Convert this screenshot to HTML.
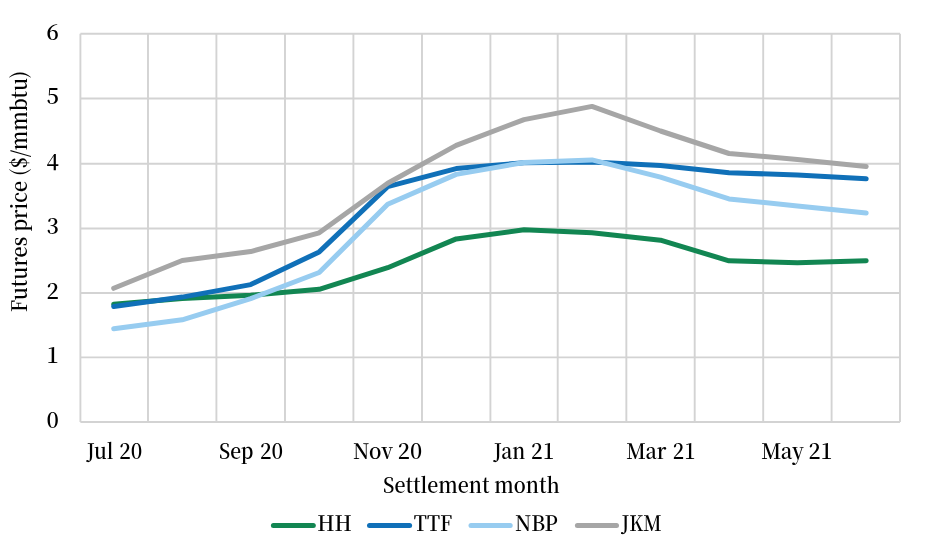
<!DOCTYPE html>
<html lang="en"><head><meta charset="utf-8"><title>Gas futures prices</title>
<style>html,body{margin:0;padding:0;background:#fff}svg{display:block}text{font-family:'Noto Serif CJK SC','Liberation Serif',serif;font-size:21.4px;font-weight:600;fill:#000}</style></head><body>
<svg width="925" height="552" viewBox="0 0 925 552">
<rect width="925" height="552" fill="#fff"/>
<path d="M80.40 33.80V421.94M148.00 33.80V421.94M216.40 33.80V421.94M285.00 33.80V421.94M353.40 33.80V421.94M422.00 33.80V421.94M490.40 33.80V421.94M557.70 33.80V421.94M626.35 33.80V421.94M694.70 33.80V421.94M763.20 33.80V421.94M831.60 33.80V421.94M900.00 33.80V421.94M80.40 33.80H900.00M80.40 98.43H900.00M80.40 163.80H900.00M80.40 228.43H900.00M80.40 292.94H900.00M80.40 357.35H900.00M80.40 421.94H900.00" fill="none" stroke="#D3D3D3" stroke-width="1.9"/>
<polyline points="113.7,304.2 182.2,298.4 250.7,295.2 319.2,289.3 387.7,267.7 456.2,238.9 524.0,229.8 592.0,232.7 660.5,240.2 729.0,260.8 797.4,262.7 866.2,260.8" fill="none" stroke="#128652" stroke-width="5" stroke-linecap="round" stroke-linejoin="round"/>
<polyline points="113.7,306.4 182.2,297.1 250.7,284.6 319.2,251.9 387.7,186.6 456.2,168.6 524.0,162.7 592.0,162.0 660.5,165.5 729.0,172.8 797.4,174.9 866.2,178.8" fill="none" stroke="#1070B8" stroke-width="5" stroke-linecap="round" stroke-linejoin="round"/>
<polyline points="113.7,328.7 182.2,319.8 250.7,298.7 319.2,272.5 387.7,204.2 456.2,174.4 524.0,162.5 592.0,159.9 660.5,177.2 729.0,198.9 797.4,205.9 866.2,213.1" fill="none" stroke="#97CCF0" stroke-width="5" stroke-linecap="round" stroke-linejoin="round"/>
<polyline points="113.7,288.3 182.2,260.5 250.7,251.6 319.2,232.8 387.7,183.2 456.2,145.4 524.0,119.6 592.0,106.4 660.5,131.0 729.0,153.5 797.4,159.4 866.2,166.6" fill="none" stroke="#A6A6A6" stroke-width="5" stroke-linecap="round" stroke-linejoin="round"/>
<text transform="translate(46.40 427.8) scale(0.960 1)" style="font-size:22.5px">0</text>
<text transform="translate(46.40 363.2) scale(0.960 1)" style="font-size:22.5px">1</text>
<text transform="translate(46.40 298.8) scale(0.960 1)" style="font-size:22.5px">2</text>
<text transform="translate(46.40 234.3) scale(0.960 1)" style="font-size:22.5px">3</text>
<text transform="translate(46.40 169.7) scale(0.960 1)" style="font-size:22.5px">4</text>
<text transform="translate(46.40 104.3) scale(0.960 1)" style="font-size:22.5px">5</text>
<text transform="translate(46.40 39.7) scale(0.960 1)" style="font-size:22.5px">6</text>
<text y="458.6"><tspan x="86.71" textLength="26.76" lengthAdjust="spacingAndGlyphs">Jul</tspan> <tspan x="119.18" textLength="23.05" lengthAdjust="spacingAndGlyphs" font-size="22.5">20</tspan></text>
<text y="458.6"><tspan x="218.99" textLength="34.53" lengthAdjust="spacingAndGlyphs">Sep</tspan> <tspan x="259.98" textLength="23.16" lengthAdjust="spacingAndGlyphs" font-size="22.5">20</tspan></text>
<text y="458.6"><tspan x="353.07" textLength="39.84" lengthAdjust="spacingAndGlyphs">Nov</tspan> <tspan x="397.82" textLength="24.37" lengthAdjust="spacingAndGlyphs" font-size="22.5">20</tspan></text>
<text y="458.6"><tspan x="493.86" textLength="31.49" lengthAdjust="spacingAndGlyphs">Jan</tspan> <tspan x="531.07" textLength="23.40" lengthAdjust="spacingAndGlyphs" font-size="22.5">21</tspan></text>
<text y="458.6"><tspan x="626.20" textLength="40.23" lengthAdjust="spacingAndGlyphs">Mar</tspan> <tspan x="672.80" textLength="22.67" lengthAdjust="spacingAndGlyphs" font-size="22.5">21</tspan></text>
<text y="458.6"><tspan x="761.19" textLength="42.63" lengthAdjust="spacingAndGlyphs">May</tspan> <tspan x="808.53" textLength="24.13" lengthAdjust="spacingAndGlyphs" font-size="22.5">21</tspan></text>
<text transform="translate(382.97 492.5) scale(0.9162 1)">Settlement month</text>
<text transform="translate(27.0 312.22) rotate(-90) scale(0.9162 1)">Futures price ($/mmbtu)</text>
<line x1="273.4" y1="525.6" x2="313.3" y2="525.6" stroke="#128652" stroke-width="5" stroke-linecap="round"/>
<text transform="translate(317.16 530.8) scale(0.9410 1)">HH</text>
<line x1="369.5" y1="525.6" x2="409.6" y2="525.6" stroke="#1070B8" stroke-width="5" stroke-linecap="round"/>
<text transform="translate(413.75 530.8) scale(0.8985 1)">TTF</text>
<line x1="471.0" y1="525.6" x2="510.2" y2="525.6" stroke="#97CCF0" stroke-width="5" stroke-linecap="round"/>
<text transform="translate(515.08 530.8) scale(0.9413 1)">NBP</text>
<line x1="577.4" y1="525.6" x2="616.5" y2="525.6" stroke="#A6A6A6" stroke-width="5" stroke-linecap="round"/>
<text transform="translate(621.54 530.8) scale(0.8698 1)">JKM</text>
</svg></body></html>
